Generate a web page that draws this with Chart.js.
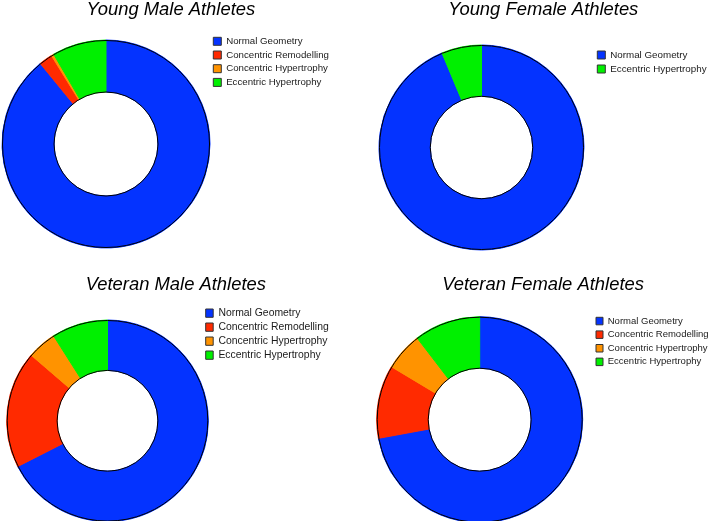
<!DOCTYPE html>
<html>
<head>
<meta charset="utf-8">
<script src="https://cdn.jsdelivr.net/npm/chart.js@4"></script>
<style>
  html, body { margin: 0; padding: 0; background: #fff; }
  body { width: 709px; height: 521px; position: relative; overflow: hidden; }
  canvas { position: absolute; }
</style>
</head>
<body>
<canvas id="youngMale"></canvas>
<canvas id="youngFemale"></canvas>
<canvas id="veteranMale"></canvas>
<canvas id="veteranFemale"></canvas>
<script>
// Data (percent of each group)
const categories = ['Normal Geometry', 'Concentric Remodelling', 'Concentric Hypertrophy', 'Eccentric Hypertrophy'];
const youngFemaleCategories = ['Normal Geometry', 'Eccentric Hypertrophy'];
const youngMaleValues = [89.1, 2.1, 0.4, 8.4];
const youngFemaleValues = [93.7, 6.3];
const veteranMaleValues = [67.5, 18.8, 4.7, 9.0];
const veteranFemaleValues = [72.1, 11.5, 6.0, 10.4];

const colors = {
  'Normal Geometry': '#0433FF',
  'Concentric Remodelling': '#FF2A00',
  'Concentric Hypertrophy': '#FF9300',
  'Eccentric Hypertrophy': '#00F000'
};

const FAMILY = "'Liberation Sans', Arial, Helvetica, sans-serif";
const TITLE_SIZE = 18.4;

// black rim on outer and inner edge only (no radial lines between slices)
const rimPlugin = {
  id: 'rim',
  afterDatasetsDraw(chart) {
    const arc = chart.getDatasetMeta(0).data[0];
    if (!arc) return;
    const ctx = chart.ctx;
    ctx.save();
    ctx.strokeStyle = '#000';
    ctx.lineWidth = 1;
    ctx.beginPath();
    ctx.arc(arc.x, arc.y, arc.outerRadius - 0.5, 0, Math.PI * 2);
    ctx.stroke();
    ctx.beginPath();
    ctx.arc(arc.x, arc.y, arc.innerRadius, 0, Math.PI * 2);
    ctx.stroke();
    ctx.restore();
  }
};

function textWidth(text, size) {
  const c = document.createElement('canvas').getContext('2d');
  c.font = size + 'px ' + FAMILY;
  return c.measureText(text).width;
}

// s: placement of one panel in page pixels
function makeDonut(id, title, labels, values, s) {
  const pad = s.rowGap - Math.max(s.font, s.boxH);
  const chartRight = s.boxLeft - pad;
  const chartLeft = 2 * s.cx - chartRight;
  const chartTop = s.legendTop - pad - Math.max((s.font - s.boxH) / 2, 0);
  const chartBottom = 2 * s.cy - chartTop;
  const maxText = Math.max(...labels.map(l => textWidth(l, s.font)));
  // vertical legends get 10px extra width in Chart.js
  const legendRight = chartRight + pad + s.boxW + s.font / 2 + maxText + 10;

  const canvasLeft = Math.floor(Math.min(chartLeft, s.cx - s.r)) - 4;
  const W = Math.ceil(legendRight - canvasLeft) + 1;
  const H = Math.ceil(chartBottom - s.top) + 2;
  const titleTop = s.titleMid - s.top - TITLE_SIZE / 2;
  const titleBottom = chartTop - s.top - titleTop - TITLE_SIZE;

  const el = document.getElementById(id);
  el.width = W;
  el.height = H;
  el.style.left = canvasLeft + 'px';
  el.style.top = s.top + 'px';

  const bg = labels.map(l => colors[l]);
  return new Chart(el, {
    type: 'doughnut',
    data: {
      labels: labels,
      datasets: [{
        data: values,
        backgroundColor: bg,
        borderColor: bg,
        borderWidth: 1,
        radius: s.r,
        clip: false
      }]
    },
    options: {
      responsive: false,
      animation: false,
      events: [],
      cutout: '50%',
      layout: {
        padding: {
          left: chartLeft - canvasLeft,
          right: W - (legendRight - canvasLeft),
          top: 0,
          bottom: H - (chartBottom - s.top)
        }
      },
      plugins: {
        tooltip: { enabled: false },
        title: {
          display: true,
          text: title,
          color: '#000',
          font: { family: FAMILY, size: TITLE_SIZE, style: 'italic', weight: 'normal', lineHeight: 1 },
          padding: { top: titleTop, bottom: titleBottom }
        },
        legend: {
          position: 'right',
          align: 'start',
          fullSize: false,
          labels: {
            color: '#1a1a1a',
            font: { family: FAMILY, size: s.font },
            boxWidth: s.boxW,
            boxHeight: s.boxH,
            padding: pad,
            generateLabels(chart) {
              const items = Chart.overrides.doughnut.plugins.legend.labels.generateLabels(chart);
              items.forEach(it => { it.strokeStyle = '#333'; it.lineWidth = 1; });
              return items;
            }
          }
        }
      }
    },
    plugins: [rimPlugin]
  });
}

makeDonut('youngMale', 'Young Male Athletes', categories, youngMaleValues,
  { top: 0, titleMid: 9.6, legendTop: 37.3, boxLeft: 213.3, font: 9.7, boxW: 8, boxH: 8, rowGap: 13.7, cx: 106, cy: 144, r: 104 });
makeDonut('youngFemale', 'Young Female Athletes', youngFemaleCategories, youngFemaleValues,
  { top: 0, titleMid: 9.6, legendTop: 51, boxLeft: 597.3, font: 9.8, boxW: 8, boxH: 8, rowGap: 14, cx: 481.5, cy: 147.5, r: 102.5 });
makeDonut('veteranMale', 'Veteran Male Athletes', categories, veteranMaleValues,
  { top: 260, titleMid: 284.6, legendTop: 309, boxLeft: 205.7, font: 10.4, boxW: 7.5, boxH: 8.3, rowGap: 14, cx: 107.5, cy: 420.8, r: 100.8 });
makeDonut('veteranFemale', 'Veteran Female Athletes', categories, veteranFemaleValues,
  { top: 260, titleMid: 284.6, legendTop: 317.3, boxLeft: 596, font: 9.5, boxW: 7, boxH: 7.5, rowGap: 13.6, cx: 479.7, cy: 419.7, r: 103 });
</script>
</body>
</html>
